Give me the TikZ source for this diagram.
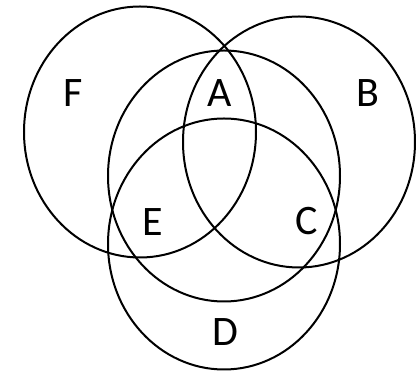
\documentclass[tikz,border=0pt]{standalone}
\usepackage{fontspec}
\setmainfont{Carlito}
\usetikzlibrary{shapes.geometric}
\begin{document}
\begin{tikzpicture}[x=1pt,y=1pt,
  set/.style={draw=black, line width=2pt, ellipse, minimum width=232pt, minimum height=251pt, inner sep=0pt},
  lab/.style={font=\fontsize{42}{42}\selectfont, inner sep=0pt}]
\useasboundingbox (0,0) rectangle (416,372);
\node[set] (F) at (140,240) {};
\node[set] (B) at (299,230) {};
\node[set] (M) at (224,196) {};
\node[set] (D) at (224,128) {};
\node[lab] (lF) at (73,279) {F};
\node[lab] (lA) at (220,279) {A};
\node[lab] (lB) at (368,279) {B};
\node[lab] (lE) at (153,150) {E};
\node[lab] (lC) at (307,151) {C};
\node[lab] (lD) at (225,40) {D};
\end{tikzpicture}
\end{document}
